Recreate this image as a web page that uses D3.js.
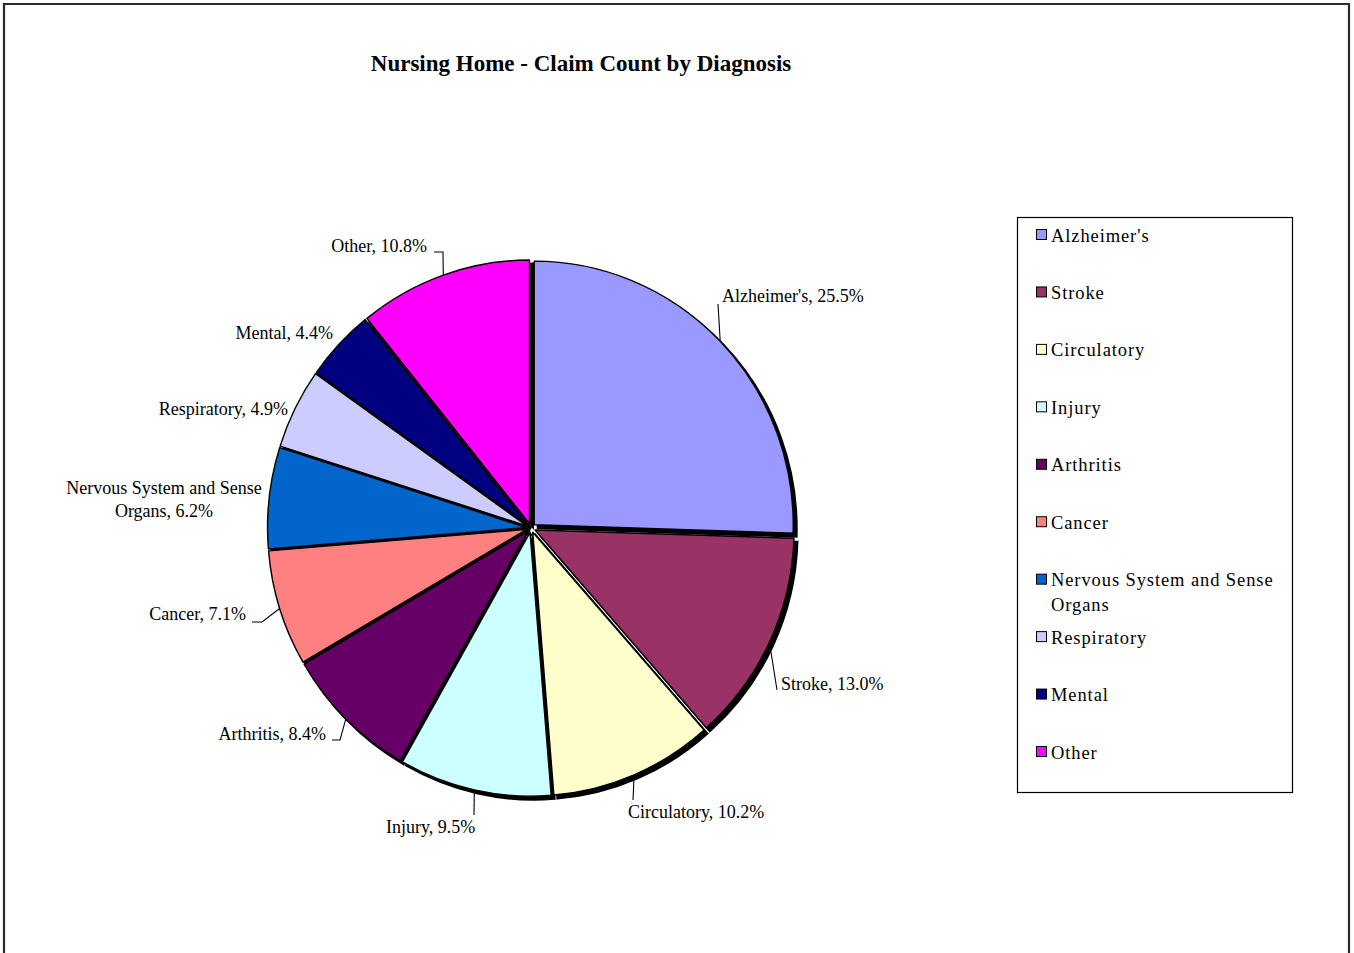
<!DOCTYPE html>
<html>
<head>
<meta charset="utf-8">
<script src="https://cdn.jsdelivr.net/npm/d3@7"></script>
<style>
  html, body { margin: 0; padding: 0; background: #fff; }
  svg { display: block; }
  text { font-family: "Liberation Serif", "Times New Roman", serif; fill: #000; }
</style>
</head>
<body>
<svg id="chart" width="1354" height="953"></svg>
<script>
// Diagnosis categories and their share of nursing home claims (%)
const categories = ["Alzheimer's", "Stroke", "Circulatory", "Injury", "Arthritis",
  "Cancer", "Nervous System and Sense Organs", "Respiratory", "Mental", "Other"];
const shares = [25.5, 13.0, 10.2, 9.5, 8.4, 7.1, 6.2, 4.9, 4.4, 10.8];
const sliceColors = ["#9999FF", "#993366", "#FFFFCC", "#CCFFFF", "#660066",
  "#FF8080", "#0066CC", "#CCCCFF", "#000080", "#FF00FF"];
// Data label text lines (category, value)
const labelLines = [
  ["Alzheimer's, 25.5%"], ["Stroke, 13.0%"], ["Circulatory,  10.2%"], ["Injury, 9.5%"],
  ["Arthritis, 8.4%"], ["Cancer, 7.1%"], ["Nervous System and Sense", "Organs, 6.2%"],
  ["Respiratory, 4.9%"], ["Mental, 4.4%"], ["Other, 10.8%"]
];
const legendLines = [["Alzheimer's"], ["Stroke"], ["Circulatory"], ["Injury"], ["Arthritis"],
  ["Cancer"], ["Nervous System and Sense", "Organs"], ["Respiratory"], ["Mental"], ["Other"]];

// Layout of the data labels: text anchor point and leader elbows
const labelLayout = [
  { x: 722, y: 302, anchor: "start", leader: [[718, 304]] },
  { x: 781, y: 690, anchor: "start", leader: [[777, 690]] },
  { x: 628, y: 818, anchor: "start", leader: [[633, 800]] },
  { x: 386, y: 833, anchor: "start", leader: [[474, 815]] },
  { x: 326, y: 740, anchor: "end",   leader: [[332, 740], [340, 740]] },
  { x: 246, y: 620, anchor: "end",   leader: [[252, 622], [262, 622]] },
  { x: 164, y: 494, anchor: "middle", leader: null },
  { x: 288, y: 415, anchor: "end",   leader: null },
  { x: 333, y: 339, anchor: "end",   leader: null },
  { x: 427, y: 252, anchor: "end",   leader: [[434, 252], [443, 252]] }
];

const svg = d3.select("#chart");
const W = 1354, H = 953;

// Outer frame
svg.append("path")
  .attr("d", `M4,${H + 5} L4,4 L1349,4 L1349,${H + 5}`)
  .attr("fill", "none").attr("stroke", "#2b2b2b").attr("stroke-width", 2.2);

// Title
svg.append("text")
  .attr("x", 581).attr("y", 71)
  .attr("text-anchor", "middle")
  .attr("font-size", 23).attr("font-weight", "bold")
  .text("Nursing Home - Claim Count by Diagnosis");

// Pie geometry
const cx = 531, cy = 528, R = 259, ys = 1.018, explode = 4.5;
const pie = d3.pie().sort(null).value(d => d);
const arcs = pie(shares);
const arc = d3.arc().innerRadius(0).outerRadius(R);

const pieG = svg.append("g").attr("transform", `translate(${cx},${cy}) scale(1,${ys})`);

function offset(d) {
  const a = (d.startAngle + d.endAngle) / 2;
  return [explode * Math.sin(a), -explode * Math.cos(a)];
}

// Drop shadows
pieG.selectAll("path.shadow").data(arcs).join("path")
  .attr("class", "shadow")
  .attr("d", arc)
  .attr("fill", "#000")
  .attr("stroke", "#000").attr("stroke-width", 2)
  .attr("transform", d => { const o = offset(d); return `translate(${o[0] + 3.5},${o[1] + 3.5})`; });

// Slices
pieG.selectAll("path.slice").data(arcs).join("path")
  .attr("class", "slice")
  .attr("d", arc)
  .attr("fill", (d, i) => sliceColors[i])
  .attr("stroke", "#000").attr("stroke-width", 1.4)
  .attr("stroke-linejoin", "round")
  .attr("transform", d => { const o = offset(d); return `translate(${o[0]},${o[1]})`; });

// Point on the outer edge of a slice, at its bisector, in page coordinates
function edgePoint(d) {
  const a = (d.startAngle + d.endAngle) / 2;
  const r = R + explode;
  return [cx + r * Math.sin(a), cy - r * Math.cos(a) * ys];
}

// Leader lines
const line = d3.line();
arcs.forEach((d, i) => {
  const lay = labelLayout[i];
  if (!lay.leader) return;
  const pts = lay.leader.concat([edgePoint(d)]);
  svg.append("path")
    .attr("d", line(pts))
    .attr("fill", "none").attr("stroke", "#000").attr("stroke-width", 1.1);
});

// Data labels
arcs.forEach((d, i) => {
  const lay = labelLayout[i];
  const t = svg.append("text")
    .attr("x", lay.x).attr("y", lay.y)
    .attr("text-anchor", lay.anchor)
    .attr("font-size", 18);
  labelLines[i].forEach((s, k) => {
    t.append("tspan").attr("x", lay.x).attr("dy", k === 0 ? 0 : 23).text(s);
  });
});

// Legend
const lg = { x: 1017, y: 217, w: 275, h: 575 };
svg.append("rect")
  .attr("x", lg.x + 0.5).attr("y", lg.y + 0.5).attr("width", lg.w).attr("height", lg.h)
  .attr("fill", "#fff").attr("stroke", "#000").attr("stroke-width", 1.2);

const rowY = d3.scalePoint().domain(d3.range(categories.length)).range([235, 752]);
const items = svg.append("g").selectAll("g").data(categories).join("g")
  .attr("transform", (d, i) => `translate(0,${rowY(i)})`);
items.append("rect")
  .attr("x", 1036.5).attr("y", -5.5).attr("width", 10).attr("height", 10)
  .attr("fill", (d, i) => sliceColors[i])
  .attr("stroke", "#000").attr("stroke-width", 1);
items.append("text")
  .attr("x", 1051).attr("y", 6.5)
  .attr("font-size", 18.5)
  .attr("letter-spacing", 0.9)
  .each(function (d, i) {
    const t = d3.select(this);
    legendLines[i].forEach((s, k) => {
      t.append("tspan").attr("x", 1051).attr("dy", k === 0 ? 0 : 25).text(s);
    });
  });
</script>
</body>
</html>
